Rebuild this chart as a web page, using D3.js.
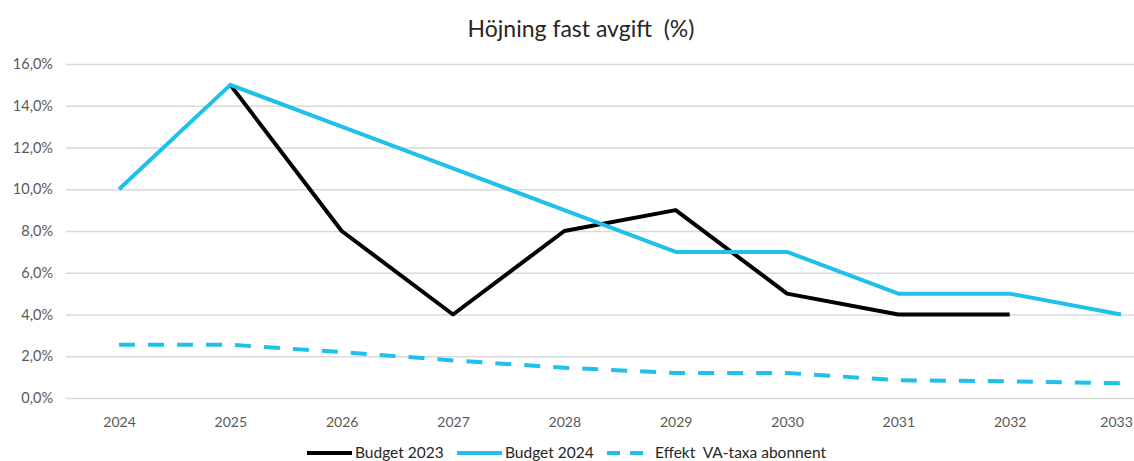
<!DOCTYPE html>
<html>
<head>
<meta charset="utf-8">
<script src="https://cdn.jsdelivr.net/npm/d3@7"></script>
<style>
  body { margin: 0; background: #fff; }
  text { font-family: Lato, "Open Sans", sans-serif; white-space: pre; }
</style>
</head>
<body>
<div id="linechart"></div>
<script>
// data
var years = ["2024", "2025", "2026", "2027", "2028", "2029", "2030", "2031", "2032", "2033"];
var budget2023 = [null, 15, 8, 4, 8, 9, 5, 4, 4, null];
var budget2024 = [10, 15, 13, 11, 9, 7, 7, 5, 5, 4];
var effektVA = [2.55, 2.55, 2.2, 1.8, 1.45, 1.2, 1.2, 0.85, 0.8, 0.7];
var yTicks = [0, 2, 4, 6, 8, 10, 12, 14, 16];

var width = 1134;
var height = 461;

var svg = d3.select('#linechart')
    .append('svg')
        .attr('width', width)
        .attr('height', height)
        .style('background', '#fff');

var xScale = d3.scalePoint()
    .domain(years)
    .range([119, 1121]);

var yScale = d3.scaleLinear()
    .domain([0, 16])
    .range([398, 64]);

var fmt = function (d) { return d.toFixed(1).replace('.', ',') + '%'; };

// gridlines + y labels
var yAxis = d3.axisLeft(yScale)
    .tickValues(yTicks)
    .tickFormat(fmt)
    .tickSize(-(width - 66))
    .tickPadding(13);

var yg = svg.append('g')
    .attr('class', 'y axis')
    .attr('transform', 'translate(66,0)')
    .call(yAxis);
yg.select('.domain').remove();
yg.selectAll('.tick line').attr('stroke', '#d9d9d9').attr('stroke-width', 1.3);
yg.selectAll('.tick text').attr('fill', '#595959').style('font-size', '14.5px');

// x labels
var xAxis = d3.axisBottom(xScale).tickSize(0).tickPadding(19);
var xg = svg.append('g')
    .attr('class', 'x axis')
    .attr('transform', 'translate(0,398)')
    .call(xAxis);
xg.select('.domain').remove();
xg.selectAll('.tick text').attr('fill', '#595959').style('font-size', '14px');
// last label sits at the cropped right edge
xg.selectAll('.tick text').filter(function (d) { return d === '2033'; }).attr('dx', -5);

//title
svg.append('text')
    .attr('x', 581)
    .attr('y', 37)
    .attr('text-anchor', 'middle')
    .attr('fill', '#262626')
    .style('font-size', '23px')
    .text('Höjning fast avgift  (%)');

var series = [
    { name: 'Budget 2023', values: budget2023, color: '#000000', dash: null },
    { name: 'Budget 2024', values: budget2024, color: '#1fc0ea', dash: null },
    { name: 'Effekt  VA-taxa abonnent', values: effektVA, color: '#1fc0ea', dash: '16,13' }
];

var line = d3.line()
    .defined(function (d) { return d != null; })
    .x(function (d, i) { return xScale(years[i]); })
    .y(function (d) { return yScale(d); });

// dashed first so the solid lines sit on top
[series[2], series[0], series[1]].forEach(function (s) {
    svg.append('path')
        .datum(s.values)
        .attr('fill', 'none')
        .attr('stroke', s.color)
        .attr('stroke-width', 4)
        .attr('stroke-linejoin', 'round')
        .attr('stroke-dasharray', s.dash)
        .attr('d', line);
});

// legend
var legendX = [307, 457, 607];
series.forEach(function (s, i) {
    var g = svg.append('g').attr('transform', 'translate(' + legendX[i] + ',453)');
    g.append('line')
        .attr('x1', 0).attr('x2', 45)
        .attr('stroke', s.color)
        .attr('stroke-width', 4)
        .attr('stroke-dasharray', s.dash ? '13,10' : null);
    g.append('text')
        .attr('x', 48)
        .attr('dy', '0.35em')
        .attr('fill', '#262626')
        .style('font-size', '15.5px')
        .text(s.name);
});
</script>
</body>
</html>
